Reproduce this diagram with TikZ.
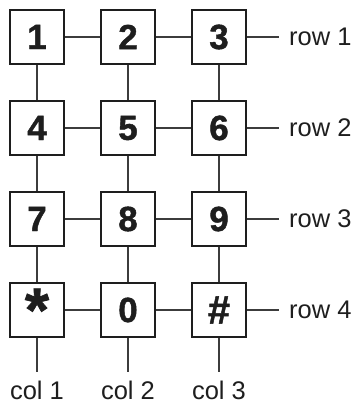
\documentclass[tikz,border=0pt]{standalone}
\usepackage{fontspec}
\setmainfont{Liberation Sans}
\newfontfamily\keyfont[BoldFeatures={FakeBold=1.2}]{Liberation Sans}
\usetikzlibrary{positioning}
\definecolor{padInk}{RGB}{30,30,30}
\definecolor{padWire}{RGB}{60,60,60}
\tikzset{
  padkey/.style={draw=padInk, line width=2.4pt, fill=white, minimum size=54.5pt,
    inner sep=0pt, font=\keyfont\fontsize{35}{35}\selectfont\bfseries, text=padInk},
  rowlabel/.style={anchor=west, inner xsep=10pt, inner ysep=0pt,
    font=\fontsize{25.5}{25.5}\selectfont, text=padInk},
  collabel/.style={anchor=north, inner sep=0pt,
    font=\fontsize{25.5}{25.5}\selectfont, text=padInk},
  wire/.style={draw=padWire, line width=1.2pt}
}
\begin{document}
\begin{tikzpicture}[x=1pt,y=1pt]
    \useasboundingbox (0,0) rectangle (355,405);
    \node[padkey] (k1) at (37,368) {1};
    \node[padkey] (k2) at (128,368) {2};
    \node[padkey] (k3) at (219,368) {3};
    \node[padkey] (k4) at (37,277) {4};
    \node[padkey] (k5) at (128,277) {5};
    \node[padkey] (k6) at (219,277) {6};
    \node[padkey] (k7) at (37,186) {7};
    \node[padkey] (k8) at (128,186) {8};
    \node[padkey] (k9) at (219,186) {9};
    \node[padkey] (kstar) at (37,95) {\raisebox{-10pt}{\fontsize{62}{62}\selectfont *}};
    \node[padkey] (k0) at (128,95) {0};
    \node[padkey] (khash) at (219,95) {\fontsize{40}{40}\selectfont\#};
    \node[rowlabel] (r1) at (279,368) {row 1};
    \node[rowlabel] (r2) at (279,277) {row 2};
    \node[rowlabel] (r3) at (279,186) {row 3};
    \node[rowlabel] (r4) at (279,95) {row 4};
    \node[collabel] (c1) at (37,24) {col 1};
    \node[collabel] (c2) at (128,24) {col 2};
    \node[collabel] (c3) at (219,24) {col 3};
    % rows
    \draw[wire] (k1) -- (k2);
    \draw[wire] (k2) -- (k3);
    \draw[wire] (k3) -- (r1);
    \draw[wire] (k4) -- (k5);
    \draw[wire] (k5) -- (k6);
    \draw[wire] (k6) -- (r2);
    \draw[wire] (k7) -- (k8);
    \draw[wire] (k8) -- (k9);
    \draw[wire] (k9) -- (r3);
    \draw[wire] (kstar) -- (k0);
    \draw[wire] (k0) -- (khash);
    \draw[wire] (khash) -- (r4);
    % columns
    \draw[wire] (k1) -- (k4);
    \draw[wire] (k4) -- (k7);
    \draw[wire] (k7) -- (kstar);
    \draw[wire, shorten >=9pt] (kstar) -- (c1);
    \draw[wire] (k2) -- (k5);
    \draw[wire] (k5) -- (k8);
    \draw[wire] (k8) -- (k0);
    \draw[wire, shorten >=9pt] (k0) -- (c2);
    \draw[wire] (k3) -- (k6);
    \draw[wire] (k6) -- (k9);
    \draw[wire] (k9) -- (khash);
    \draw[wire, shorten >=9pt] (khash) -- (c3);
  \end{tikzpicture}
\end{document}
